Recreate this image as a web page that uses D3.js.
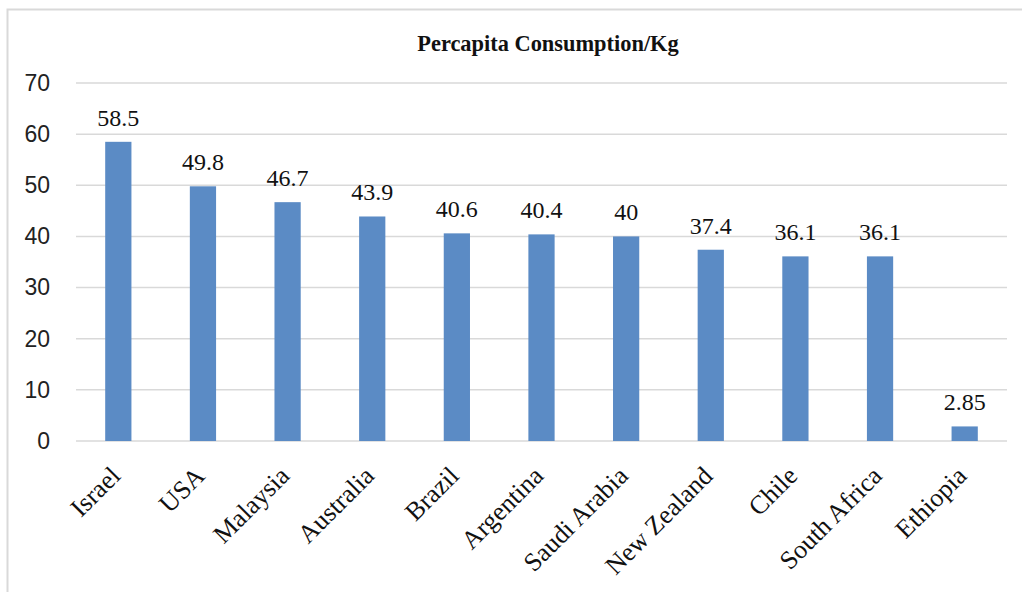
<!DOCTYPE html>
<html><head><meta charset="utf-8">
<script src="https://cdn.jsdelivr.net/npm/d3@7"></script>
<style>html,body{margin:0;padding:0;background:#fff}</style>
</head><body>
<script>
const categories = ["Israel","USA","Malaysia","Australia","Brazil","Argentina","Saudi Arabia","New Zealand","Chile","South Africa","Ethiopia"];
const values = [58.5,49.8,46.7,43.9,40.6,40.4,40,37.4,36.1,36.1,2.85];
const valueLabels = ["58.5","49.8","46.7","43.9","40.6","40.4","40","37.4","36.1","36.1","2.85"];
const yTicks = [0,10,20,30,40,50,60,70];
const title = "Percapita Consumption/Kg";

const W = 1022, H = 592;
const serif = "'Liberation Serif', 'Times New Roman', serif";
const svg = d3.select("body").append("svg").attr("width", W).attr("height", H);

// frame
svg.append("path").attr("d", `M7.5,${H} L7.5,9.5 L${W},9.5`).attr("fill","none").attr("stroke","#d9d9d9").attr("stroke-width",2);

const x = d3.scaleBand().domain(categories).range([76, 1007]).paddingInner(0.69).paddingOuter(0.345);
const y = d3.scaleLinear().domain([0, 70]).range([441, 83]);

// gridlines
svg.append("g").selectAll("line").data(yTicks).join("line")
  .attr("x1", 76).attr("x2", 1007)
  .attr("y1", d => y(d)).attr("y2", d => y(d))
  .attr("stroke", "#d9d9d9").attr("stroke-width", 1.5);

// y axis labels
const yAxis = d3.axisLeft(y).tickValues(yTicks).tickSize(0).tickPadding(0);
const gy = svg.append("g").attr("transform", "translate(50,0)").call(yAxis);
gy.select(".domain").remove();
gy.selectAll("text").style("font-family", "'Liberation Sans', Arial, sans-serif").style("font-size", "23px").attr("fill", "#222");

// bars
svg.append("g").selectAll("rect").data(values).join("rect")
  .attr("x", (d,i) => x(categories[i]))
  .attr("width", x.bandwidth())
  .attr("y", d => y(d))
  .attr("height", d => y(0) - y(d))
  .attr("fill", "#5b8bc5");

// value labels
svg.append("g").selectAll("text").data(values).join("text")
  .attr("x", (d,i) => x(categories[i]) + x.bandwidth()/2)
  .attr("y", d => y(d) - 16)
  .attr("text-anchor", "middle")
  .style("font-family", serif)
  .style("font-size", "24px").attr("fill", "#111")
  .text((d,i) => valueLabels[i]);

// x axis labels
const xAxis = d3.axisBottom(x).tickSize(0).tickPadding(0);
const gx = svg.append("g").attr("transform", `translate(0,${y(0)})`).call(xAxis);
gx.select(".domain").remove();
gx.selectAll("text")
  .style("font-family", serif)
  .style("font-size", "26px").attr("fill", "#111")
  .attr("text-anchor", "end")
  .attr("dy", "0.35em")
  .attr("transform", "translate(-3,30) rotate(-45)");

// title
svg.append("text").attr("x", 548).attr("y", 51).attr("text-anchor", "middle")
  .style("font-family", serif)
  .style("font-weight", "bold").style("font-size", "22.4px").attr("fill", "#111")
  .text(title);
</script>
</body></html>
